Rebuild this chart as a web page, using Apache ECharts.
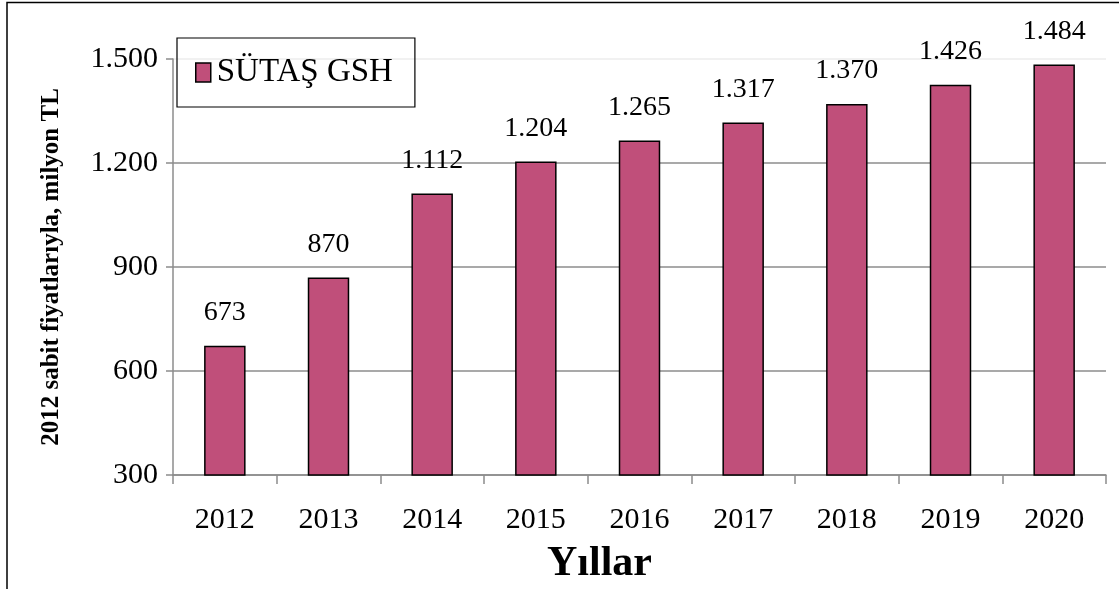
<!DOCTYPE html>
<html>
<head>
<meta charset="utf-8">
<script src="https://cdn.jsdelivr.net/npm/echarts@6/dist/echarts.min.js"></script>
<style>
html, body { margin: 0; padding: 0; background: #fff; }
#chart { width: 1119px; height: 589px; }
</style>
</head>
<body>
<div id="chart"></div>
<script>
var years = ['2012', '2013', '2014', '2015', '2016', '2017', '2018', '2019', '2020'];
var gsh = [673, 870, 1112, 1204, 1265, 1317, 1370, 1426, 1484];
var seriesName = 'SÜTAŞ GSH';
var yTicks = { min: 300, max: 1500, step: 300 };

var barColor = '#C04F7A';
var gridColor = '#8c8c8c';
var serif = '"Liberation Serif", "DejaVu Serif", serif';

// 1.500 style thousands separator
function fmt(v) {
    return String(v).replace(/\B(?=(\d{3})+(?!\d))/g, '.');
}

var myChart = echarts.init(document.getElementById('chart'));

var option = {
    backgroundColor: '#fff',
    animation: false,
    textStyle: { fontFamily: serif },
    graphic: [{
        type: 'polyline',
        shape: { points: [[7, 589], [7, 2.5], [1119, 2.5]] },
        style: { stroke: '#000', lineWidth: 1.5, fill: null }
    }],
    grid: { left: 173, right: 13, top: 59, bottom: 114, outerBoundsMode: 'none', containLabel: false },
    legend: {
        left: 177,
        top: 38,
        padding: [18, 22, 18, 18],
        borderColor: '#000',
        borderWidth: 1.2,
        icon: 'rect',
        itemWidth: 15,
        itemHeight: 19,
        itemStyle: { borderColor: '#000', borderWidth: 1.5 },
        textStyle: { fontFamily: serif, fontSize: 33, color: '#000', padding: [0, 0, 0, 1] },
        data: [seriesName]
    },
    xAxis: {
        type: 'category',
        data: years,
        name: 'Yıllar',
        nameLocation: 'middle',
        nameGap: 68,
        nameTextStyle: { fontFamily: serif, fontSize: 42, fontWeight: 'bold', color: '#000', padding: [0, 80, 0, 0] },
        axisLine: { lineStyle: { color: gridColor, width: 1.5 } },
        axisTick: { show: true, interval: 0, length: 9, lineStyle: { color: gridColor, width: 1.5 } },
        axisLabel: { fontFamily: serif, fontSize: 30, color: '#000', margin: 30, interval: 0 }
    },
    yAxis: {
        type: 'value',
        min: yTicks.min,
        max: yTicks.max,
        interval: yTicks.step,
        name: '2012 sabit fiyatlarıyla, milyon TL',
        nameLocation: 'middle',
        nameRotate: 90,
        nameGap: 109,
        nameTextStyle: { fontFamily: serif, fontSize: 25, fontWeight: 'bold', color: '#000' },
        axisLine: { show: true, lineStyle: { color: gridColor, width: 1.5 } },
        axisTick: { show: true, length: 7, lineStyle: { color: gridColor, width: 1.5 } },
        axisLabel: { fontFamily: serif, fontSize: 30, color: '#000', margin: 15, formatter: fmt },
        splitLine: { lineStyle: { color: [gridColor, gridColor, gridColor, gridColor, '#ececec'], width: 1.5 } }
    },
    series: [{
        name: seriesName,
        type: 'bar',
        data: gsh,
        barWidth: '40%',
        itemStyle: { color: barColor, borderColor: '#000', borderWidth: 1.5 },
        label: {
            show: true,
            position: 'top',
            distance: 19,
            fontFamily: serif,
            fontSize: 28,
            color: '#000',
            formatter: function (p) { return fmt(p.value); }
        }
    }]
};
myChart.setOption(option);
</script>
</body>
</html>
